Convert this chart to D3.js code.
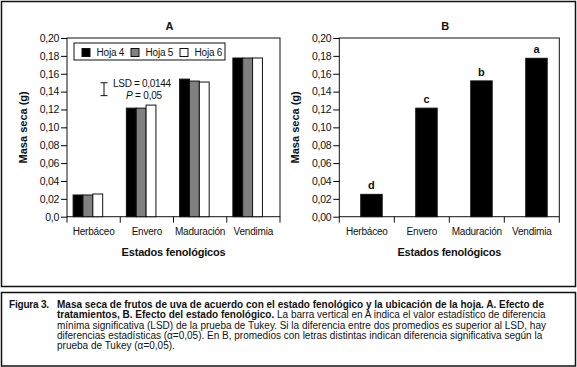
<!DOCTYPE html>
<html lang="es">
<head>
<meta charset="utf-8">
<title>Figura 3 - Masa seca de frutos de uva</title>
<script src="https://d3js.org/d3.v7.min.js"></script>
<style>
  body { margin: 0; background: #fff; }
  svg text { font-family: "Liberation Sans Narrow", "Liberation Sans", Arial, sans-serif; fill: #111; }
  .bold { font-weight: bold; }
</style>
</head>
<body>
<script>
// data
const categories = ["Herbáceo", "Envero", "Maduración", "Vendimia"];
const hoja4 = [0.0243, 0.1215, 0.1540, 0.1776];
const hoja5 = [0.0243, 0.1215, 0.1518, 0.1776];
const hoja6 = [0.0254, 0.1249, 0.1507, 0.1776];
const seriesNames = ["Hoja 4", "Hoja 5", "Hoja 6"];
const seriesFill = ["#000000", "#808080", "#ffffff"];
const estadoB = [0.0250, 0.1215, 0.1520, 0.1773];
const letrasB = ["d", "c", "b", "a"];
const ticksA = [0, 0.02, 0.04, 0.06, 0.08, 0.10, 0.12, 0.14, 0.16, 0.18, 0.20];
const lsd = 0.0144;

const w = 577, h = 367;
const svg = d3.select("body").append("svg").attr("width", w).attr("height", h);

// frames
svg.append("rect").attr("x", 1.5).attr("y", 1.5).attr("width", 574).attr("height", 285)
  .attr("fill", "none").attr("stroke", "#111").attr("stroke-width", 1.5);
svg.append("rect").attr("x", 1.5).attr("y", 292.5).attr("width", 574).attr("height", 73.5)
  .attr("fill", "none").attr("stroke", "#111").attr("stroke-width", 1.5);

const comma = d => d3.format(".2f")(d).replace(".", ",");

function panel(x0, x1, title, zeroLabel) {
  const y = d3.scaleLinear().domain([0, 0.2]).range([216.7, 38]);
  const x = d3.scaleBand().domain(categories).range([x0, x1]);
  const g = svg.append("g");

  // plot box
  g.append("rect").attr("x", x0).attr("y", y(0.2)).attr("width", x1 - x0).attr("height", y(0) - y(0.2))
    .attr("fill", "none").attr("stroke", "#111").attr("stroke-width", 1);

  const yAxis = d3.axisLeft(y).tickValues(ticksA).tickSize(6).tickPadding(2)
    .tickFormat(d => d === 0 ? zeroLabel : comma(d));
  g.append("g").attr("transform", `translate(${x0},0)`).call(yAxis)
    .call(a => a.select(".domain").remove())
    .call(a => a.selectAll(".tick text").attr("font-size", 10.5).attr("letter-spacing", -0.3).attr("font-family", null));

  // x axis ticks at band edges
  const edges = categories.map(c => x(c)).concat([x1]);
  g.selectAll("line.xt").data(edges).join("line")
    .attr("x1", d => d).attr("x2", d => d).attr("y1", y(0)).attr("y2", y(0) + 6)
    .attr("stroke", "#111");
  g.selectAll("text.cat").data(categories).join("text")
    .attr("x", d => x(d) + x.bandwidth() / 2).attr("y", 234.5)
    .attr("text-anchor", "middle").attr("font-size", 10).attr("letter-spacing", -0.2).text(d => d);

  g.append("text").attr("class", "bold").attr("x", (x0 + x1) / 2).attr("y", 256)
    .attr("text-anchor", "middle").attr("font-size", 11).attr("letter-spacing", -0.2).text("Estados fenológicos");
  g.append("text").attr("class", "bold")
    .attr("transform", `translate(${x0 - 40},${(y(0) + y(0.2)) / 2}) rotate(-90)`)
    .attr("text-anchor", "middle").attr("font-size", 11).text("Masa seca (g)");
  g.append("text").attr("class", "bold").attr("x", (x0 + x1) / 2 - 4).attr("y", 30)
    .attr("text-anchor", "middle").attr("font-size", 11).text(title);
  return { g, x, y };
}

// Panel A
const A = panel(67, 280, "A", "0,0");
const series = [hoja4, hoja5, hoja6];
const bw = A.x.bandwidth();
const xs = d3.scaleBand().domain(seriesNames).range([bw * 0.115, bw * 0.67]);
seriesNames.forEach((s, si) => {
  A.g.selectAll("rect.s" + si).data(categories).join("rect")
    .attr("x", c => A.x(c) + xs(s)).attr("width", xs.bandwidth())
    .attr("y", (c, i) => A.y(series[si][i])).attr("height", (c, i) => A.y(0) - A.y(series[si][i]))
    .attr("fill", seriesFill[si]).attr("stroke", "#111").attr("stroke-width", 1);
});

// legend
const leg = A.g.append("g");
leg.append("rect").attr("x", 74).attr("y", 43).attr("width", 151).attr("height", 17)
  .attr("fill", "#fff").attr("stroke", "#111");
seriesNames.forEach((s, i) => {
  const lx = 82 + i * 49;
  leg.append("rect").attr("x", lx).attr("y", 48.5).attr("width", 8).attr("height", 8)
    .attr("fill", seriesFill[i]).attr("stroke", "#111");
  leg.append("text").attr("x", lx + 14.5).attr("y", 56).attr("font-size", 10).attr("letter-spacing", -0.2).text(s);
});

// LSD bar
const lsdBase = 0.1355, lx = 104;
A.g.append("line").attr("x1", lx).attr("x2", lx).attr("y1", A.y(lsdBase)).attr("y2", A.y(lsdBase + lsd)).attr("stroke", "#111");
[lsdBase, lsdBase + lsd].forEach(v => {
  A.g.append("line").attr("x1", lx - 3.5).attr("x2", lx + 3.5).attr("y1", A.y(v)).attr("y2", A.y(v)).attr("stroke", "#111");
});
A.g.append("text").attr("x", 113).attr("y", 86.5).attr("font-size", 10).attr("letter-spacing", -0.3)
  .text("LSD = 0,0144");
const pt = A.g.append("text").attr("x", 126).attr("y", 98.5).attr("font-size", 10).attr("letter-spacing", -0.2);
pt.append("tspan").attr("font-style", "italic").text("P");
pt.append("tspan").text(" = 0,05");

// Panel B
const B = panel(339.3, 559.3, "B", "0,00");
const bwB = B.x.bandwidth();
B.g.selectAll("rect.b").data(categories).join("rect")
  .attr("x", c => B.x(c) + bwB * 0.39).attr("width", bwB * 0.39)
  .attr("y", (c, i) => B.y(estadoB[i])).attr("height", (c, i) => B.y(0) - B.y(estadoB[i]))
  .attr("fill", "#000").attr("stroke", "#111");
B.g.selectAll("text.let").data(categories).join("text")
  .attr("class", "bold")
  .attr("x", c => B.x(c) + bwB * 0.585).attr("y", (c, i) => B.y(estadoB[i]) - 5)
  .attr("text-anchor", "middle").attr("font-size", 11).text((c, i) => letrasB[i]);

// caption
const cap = [
  { y: 308, parts: [["Masa seca de frutos de uva de acuerdo con el estado fenológico y la ubicación de la hoja. A. Efecto de", true]] },
  { y: 318.3, parts: [["tratamientos, B. Efecto del estado fenológico.", true], [" La barra vertical en A indica el valor estadístico de diferencia", false]] },
  { y: 328.6, parts: [["mínima significativa (LSD) de la prueba de Tukey. Si la diferencia entre dos promedios es superior al LSD, hay", false]] },
  { y: 338.9, parts: [["diferencias estadísticas (α=0,05). En B, promedios con letras distintas indican diferencia significativa según la", false]] },
  { y: 349.2, parts: [["prueba de Tukey (α=0,05).", false]] }
];
svg.append("text").attr("class", "bold").attr("x", 9).attr("y", 308).attr("font-size", 10)
  .attr("letter-spacing", -0.2).text("Figura 3.");
cap.forEach(l => {
  const t = svg.append("text").attr("x", 57).attr("y", l.y).attr("font-size", 10);
  l.parts.forEach(p => t.append("tspan").attr("font-weight", p[1] ? "bold" : "normal").text(p[0]));
});
</script>
</body>
</html>
